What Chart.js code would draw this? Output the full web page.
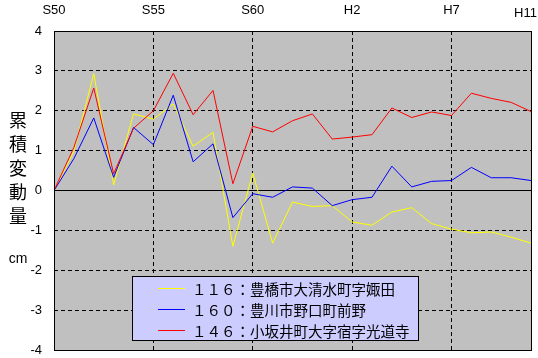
<!DOCTYPE html>
<html>
<head>
<meta charset="utf-8">
<script src="https://cdn.jsdelivr.net/npm/chart.js@4/dist/chart.umd.min.js"></script>
<style>
  html, body { margin: 0; padding: 0; background: #fff; }
  #wrap { width: 538px; height: 358px; position: relative; }
</style>
</head>
<body>
<div id="wrap"><canvas id="myChart" width="538" height="358"></canvas></div>
<script>
// years S50 (1975) .. H11 (1999), one value per year
var years = [0,1,2,3,4,5,6,7,8,9,10,11,12,13,14,15,16,17,18,19,20,21,22,23,24];
var xTickPos = [0, 5, 10, 15, 20, 24];
var xTickLabels = ['S50', 'S55', 'S60', 'H2', 'H7', 'H11'];
var yTicks = [4, 3, 2, 1, 0, -1, -2, -3, -4];

var names = ['１１６：豊橋市大清水町字娵田', '１６０：豊川市野口町前野', '１４６：小坂井町大字宿字光道寺'];
var s116 = [0, 0.98, 2.93, 0.14, 1.92, 1.79, 2.17, 1.11, 1.46, -1.40, 0.44, -1.32, -0.29, -0.40, -0.38, -0.79, -0.87, -0.54, -0.43, -0.83, -0.97, -1.06, -1.04, -1.17, -1.32];
var s160 = [0, 0.80, 1.82, 0.33, 1.58, 1.15, 2.39, 0.72, 1.17, -0.68, -0.08, -0.17, 0.09, 0.06, -0.38, -0.23, -0.17, 0.61, 0.09, 0.23, 0.25, 0.58, 0.32, 0.32, 0.25];
var s146 = [0, 1.08, 2.57, 0.42, 1.56, 2.00, 2.94, 1.90, 2.51, 0.17, 1.61, 1.47, 1.75, 1.92, 1.29, 1.34, 1.40, 2.07, 1.83, 1.97, 1.88, 2.44, 2.31, 2.21, 1.98];
var colors = ['#ffff00', '#0000ff', '#ff0000'];

function pts(arr) {
  return arr.map(function (v, i) { return { x: years[i], y: v }; });
}

var frame = {
  id: 'frame',
  beforeDraw: function (chart) {
    var a = chart.chartArea, c = chart.ctx;
    c.save();
    c.fillStyle = '#c0c0c0';
    c.fillRect(a.left, a.top, a.right - a.left, a.bottom - a.top);
    c.restore();
  },
  afterDraw: function (chart) {
    var a = chart.chartArea, c = chart.ctx;
    var xs = chart.scales.x, ys = chart.scales.y;
    c.save();
    c.strokeStyle = '#000';
    c.lineWidth = 1;
    c.strokeRect(Math.round(a.left) + 0.5, Math.round(a.top) + 0.5, Math.round(a.right - a.left), Math.round(a.bottom - a.top));

    // x labels on top
    c.fillStyle = '#000';
    c.font = '13px "Liberation Sans"';
    c.textAlign = 'center';
    c.textBaseline = 'middle';
    xTickPos.forEach(function (p, i) {
      var x = xs.getPixelForValue(p);
      var w = c.measureText(xTickLabels[i]).width;
      var y = 10;
      if (x + w / 2 > chart.width - 1) { x = chart.width - 1 - w / 2; y = 13; }
      c.fillText(xTickLabels[i], x, y);
    });

    // y labels
    c.textAlign = 'right';
    yTicks.forEach(function (v) {
      c.fillText(String(v), 42, ys.getPixelForValue(v));
    });

    // axis title
    c.textAlign = 'center';
    c.font = '18px "Noto Sans CJK JP"';
    var tt = ['累', '積', '変', '動', '量'];
    var ty = [120, 144, 168, 192, 216];
    tt.forEach(function (ch, i) { c.fillText(ch, 18, ty[i]); });
    c.font = '14px "Liberation Sans"';
    c.fillText('cm', 18, 259);

    // legend
    var lx = 132, ly = 276, lw = 286, lh = 64;
    c.fillStyle = '#ccccff';
    c.fillRect(lx, ly, lw, lh);
    c.strokeStyle = '#000';
    c.strokeRect(lx + 0.5, ly + 0.5, lw, lh);
    var rows = [288, 309, 330];
    c.font = '14.5px "Noto Sans CJK JP"';
    c.textAlign = 'left';
    names.forEach(function (n, i) {
      c.strokeStyle = colors[i];
      c.beginPath();
      c.moveTo(158, rows[i] + 0.5);
      c.lineTo(185, rows[i] + 0.5);
      c.stroke();
      c.fillStyle = '#000';
      c.fillText(n, 192, rows[i] + 1);
    });
    c.restore();
  }
};

var ctx = document.getElementById('myChart');
var myChart = new Chart(ctx, {
  type: 'line',
  data: {
    datasets: [
      { label: names[0], data: pts(s116), borderColor: colors[0], order: 3 },
      { label: names[1], data: pts(s160), borderColor: colors[1], order: 2 },
      { label: names[2], data: pts(s146), borderColor: colors[2], order: 1 }
    ]
  },
  options: {
    responsive: false,
    animation: false,
    layout: { padding: { left: 54, right: 7, top: 31, bottom: 8 } },
    elements: {
      line: { borderWidth: 1, tension: 0, fill: false },
      point: { radius: 0 }
    },
    scales: {
      x: {
        type: 'linear',
        min: 0,
        max: 24,
        afterBuildTicks: function (axis) {
          axis.ticks = xTickPos.map(function (v) { return { value: v }; });
        },
        ticks: { display: false },
        grid: { color: '#000', lineWidth: 1, drawTicks: false },
        border: { display: false, dash: [4, 3] }
      },
      y: {
        min: -4,
        max: 4,
        afterBuildTicks: function (axis) {
          axis.ticks = yTicks.map(function (v) { return { value: v }; });
        },
        ticks: { display: false },
        grid: { color: '#000', lineWidth: 1, drawTicks: false },
        border: {
          display: false,
          dash: function (c) { return c.tick && c.tick.value === 0 ? [] : [4, 3]; }
        }
      }
    },
    plugins: {
      legend: { display: false },
      tooltip: { enabled: false }
    }
  },
  plugins: [frame]
});
</script>
</body>
</html>
